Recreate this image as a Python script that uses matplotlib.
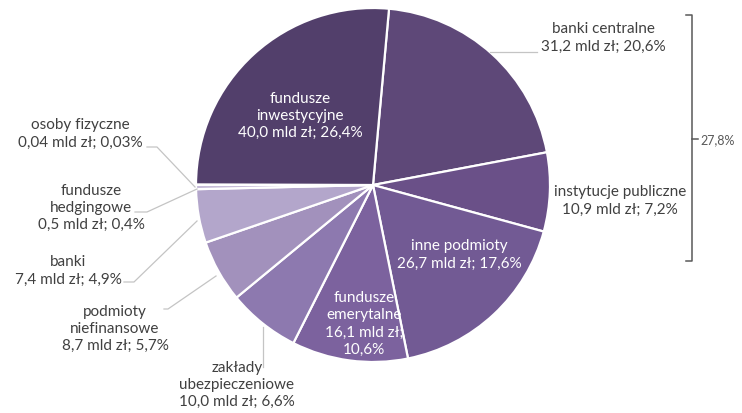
import matplotlib.pyplot as plt

# struktura posiadaczy (mld zł, udział %)
sectors = ["banki centralne", "instytucje publiczne", "inne podmioty",
           "fundusze\nemerytalne", "zakłady\nubezpieczeniowe",
           "podmioty\nniefinansowe", "banki", "fundusze\nhedgingowe",
           "osoby fizyczne", "fundusze\ninwestycyjne"]
amounts = ["31,2", "10,9", "26,7", "16,1", "10,0", "8,7", "7,4", "0,5", "0,04", "40,0"]
shares = [20.6, 7.2, 17.6, 10.6, 6.6, 5.7, 4.9, 0.4, 0.03, 26.4]
share_txt = ["20,6", "7,2", "17,6", "10,6", "6,6", "5,7", "4,9", "0,4", "0,03", "26,4"]
colors = ["#5E4878", "#6A5088", "#725A94", "#7C629E", "#8D79AF",
          "#A291BC", "#B3A6CB", "#C6BCD8", "#D8D1E4", "#523F6B"]

W, H = 742, 414
fig = plt.figure(figsize=(W / 100, H / 100), dpi=100)
ax = fig.add_axes([0, 0, 1, 1])

def py(y):
    # pixel row -> data y
    return H - y

ax.pie(shares, colors=colors, center=(373, py(186)), radius=177,
       startangle=84.8, counterclock=False,
       wedgeprops=dict(edgecolor="white", linewidth=1.6))

# pie() resets the limits, so set them afterwards
ax.set_xlim(0, W)
ax.set_ylim(0, H)
ax.set_aspect("equal")
ax.axis("off")

font = ["Lato", "DejaVu Sans"]
dark = "#404040"
grey = "#C4C4C4"
fs = 11

# label layout: (x, y, colour, leader points)
layout = [
    (603, 38, dark, [(490, 53), (537, 53)]),
    (620, 201, dark, None),
    (459, 255, "white", None),
    (364, 324, "white", None),
    (237, 385, dark, [(263, 328), (263, 368)]),
    (115, 329, dark, [(216, 277), (168, 310), (164, 310)]),
    (68, 271, dark, [(197, 222), (134, 283), (124, 283)]),
    (91, 208, dark, [(197, 190), (147, 213), (135, 213)]),
    (80, 134, dark, [(195, 188), (157, 148), (147, 148)]),
    (300, 116, "white", None),
]

for i, (x, y, c, leader) in enumerate(layout):
    name = sectors[i]
    if i == 3:
        txt = f"{name}\n{amounts[i]} mld zł;\n{share_txt[i]}%"
    else:
        txt = f"{name}\n{amounts[i]} mld zł; {share_txt[i]}%"
    ax.text(x, py(y), txt, ha="center", va="center", color=c, fontsize=fs,
            family=font, linespacing=1.3)
    if leader:
        xs = [p[0] for p in leader]
        ys = [py(p[1]) for p in leader]
        ax.plot(xs, ys, color=grey, lw=0.9)

# bracket: banki centralne + instytucje publiczne
bx = 692
ax.plot([686, bx, bx, 686], [py(16), py(16), py(262), py(262)],
        color="#595959", lw=1.1)
ax.plot([bx, 698], [py(140), py(140)], color="#595959", lw=1.1)
ax.text(700, py(140), f"{shares[0] + shares[1]:.1f}%".replace(".", ","),
        ha="left", va="center", color="#595959", fontsize=9, family=font)

fig.savefig("out.png", dpi=100)
